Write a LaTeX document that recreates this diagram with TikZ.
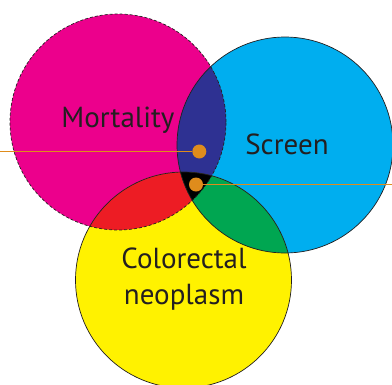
\documentclass[tikz,border=0pt]{standalone}
\usepackage{fontspec}
\setmainfont{PT Sans}
\usetikzlibrary{positioning}
\definecolor{vnmagenta}{HTML}{EC008C}
\definecolor{vncyan}{HTML}{00AEEF}
\definecolor{vnyellow}{HTML}{FFF200}
\definecolor{vnblue}{HTML}{2E3192}
\definecolor{vnred}{HTML}{ED1C24}
\definecolor{vngreen}{HTML}{00A651}
\definecolor{vnorange}{HTML}{DF8C1C}
\definecolor{vntext}{HTML}{231F20}

\begin{document}
\begin{tikzpicture}[
  x=1pt, y=-1pt,
  every node/.style={font=\fontsize{29}{35}\selectfont, text=vntext},
  rim/.style={draw=vntext, line width=0.7pt},
  dot/.style={circle, fill=vnorange, minimum size=14pt, inner sep=0pt},
  lead/.style={vnorange, line width=1.1pt},
]
\useasboundingbox (0,0) rectangle (392,384);

% circle centres
\coordinate (mort) at (118,122);
\coordinate (scr) at (285,145);
\coordinate (crc) at (183.5,280);

% base discs
\fill[vnmagenta] (mort) circle[radius=108pt];
\fill[vncyan] (scr) circle[radius=108pt];
\fill[vnyellow] (crc) circle[radius=108pt];

% pairwise overlaps
\begin{scope}
  \clip (mort) circle[radius=108pt];
  \fill[vnblue] (scr) circle[radius=108pt];
  \fill[vnred] (crc) circle[radius=108pt];
\end{scope}
\begin{scope}
  \clip (scr) circle[radius=108pt];
  \fill[vngreen] (crc) circle[radius=108pt];
\end{scope}

% triple overlap
\begin{scope}
  \clip (mort) circle[radius=108pt];
  \clip (scr) circle[radius=108pt];
  \fill[black] (crc) circle[radius=108pt];
\end{scope}

% outlines
\draw[rim] (scr) circle[radius=108pt];
\draw[rim] (crc) circle[radius=108pt];
\draw[rim, dash pattern=on 3pt off 2pt] (mort) circle[radius=108pt];

% labels
\node (mortlbl) at (118,120) {Mortality};
\node (scrlbl) at (287,144) {Screen};
\node[align=center, font=\fontsize{29}{36}\selectfont] (crclbl) at (184,279) {Colorectal\\neoplasm};

% markers
\coordinate (westend) at (0,151.5);
\coordinate (eastend) at (392,184.5);
\node[dot] (dotA) at (199.3,151.5) {};
\node[dot] (dotB) at (196,184.5) {};
\draw[lead] (westend) -- (dotA);
\draw[lead] (dotB) -- (eastend);

\end{tikzpicture}
\end{document}
